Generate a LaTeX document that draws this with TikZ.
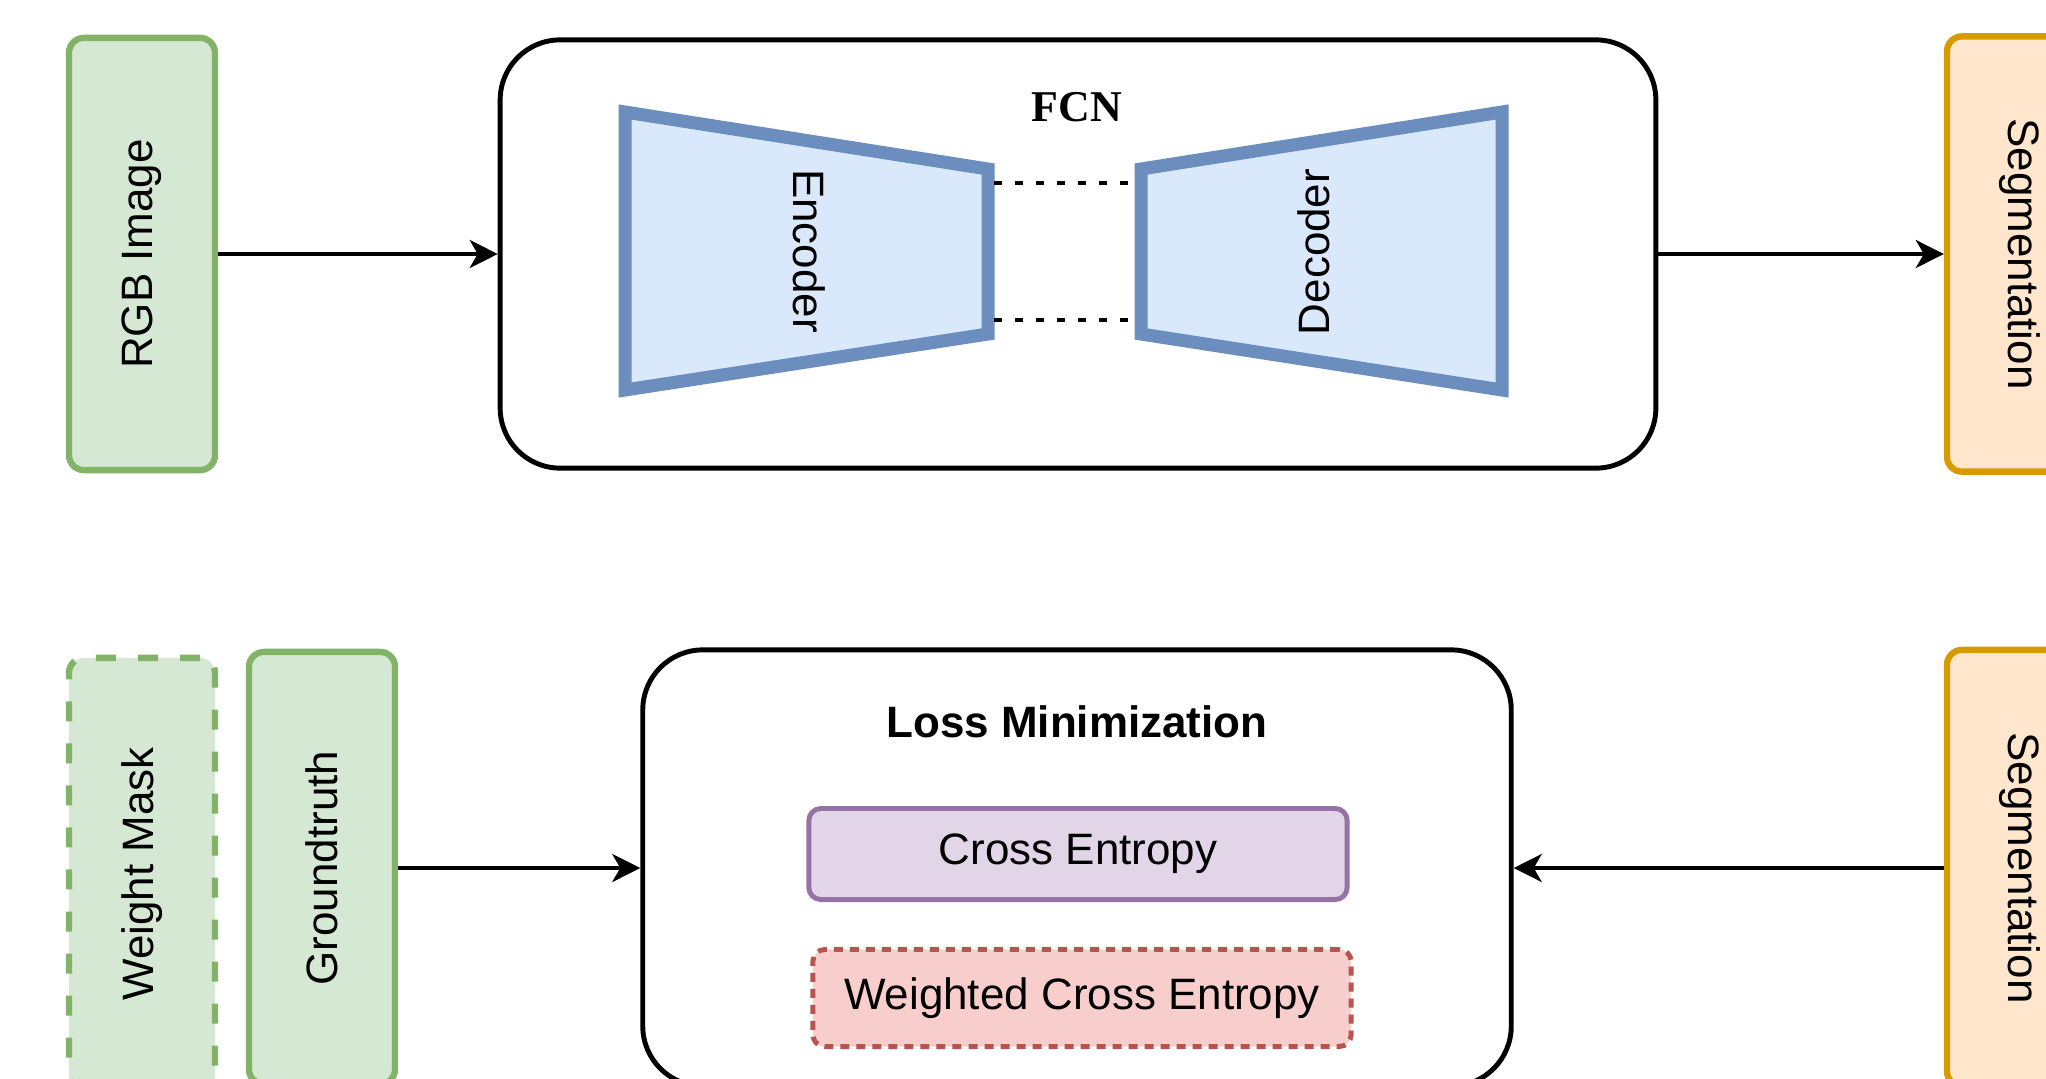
\documentclass[tikz,border=0pt]{standalone}
\usepackage{fontspec}
\setmainfont{Liberation Sans}
\newfontfamily\timesfont{Liberation Serif}
\usetikzlibrary{arrows.meta}

\definecolor{greenfill}{HTML}{D5E8D4}
\definecolor{greenline}{HTML}{82B366}
\definecolor{bluefill}{HTML}{DAE8FC}
\definecolor{blueline}{HTML}{6C8EBF}
\definecolor{orangefill}{HTML}{FFE6CC}
\definecolor{orangeline}{HTML}{D79B00}
\definecolor{purplefill}{HTML}{E1D5E7}
\definecolor{purpleline}{HTML}{9673A6}
\definecolor{redfill}{HTML}{F8CECC}
\definecolor{redline}{HTML}{B85450}

\begin{document}
\begin{tikzpicture}[x=0.01cm, y=-0.01cm,
    every node/.style={font=\fontsize{12.5}{15}\selectfont},
    box/.style={draw, rounded corners=0.15cm, line width=1.8pt, minimum width=1.46cm, minimum height=4.32cm, inner sep=0pt},
    greenbox/.style={box, draw=greenline, fill=greenfill},
    orangebox/.style={box, draw=orangeline, fill=orangefill},
    bigbox/.style={draw, rounded corners=0.6cm, line width=1.4pt, inner sep=0pt},
    smallbox/.style={draw, rounded corners=0.12cm, line width=1.4pt, minimum width=5.38cm, inner sep=0pt},
    coder/.style={draw=blueline, fill=bluefill, line width=3.7pt, line join=miter},
    skipline/.style={line width=1pt, dash pattern=on 0.08cm off 0.13cm},
    arrow/.style={-{Stealth[length=0.28cm, width=0.28cm, inset=0.08cm]}, line width=1.1pt}]

\useasboundingbox (0,0) rectangle (2046,1078);
\clip (0,0) rectangle (2046,1078);

% 위: FCN
\node[greenbox] (rgb) at (142,254) {\rotatebox{90}{RGB Image}};
\node[bigbox, minimum width=11.55cm, minimum height=4.28cm] (fcn) at (1078,254) {};
\node[orangebox, minimum height=4.35cm] (segtop) at (2020,254) {\rotatebox{-90}{Segmentation}};
\node[font={\timesfont\bfseries\fontsize{12.5}{15}\selectfont}] (fcnlabel) at (1077,107) {FCN};

\draw[coder] (625,112) -- (988,169) -- (988,334) -- (625,390) -- cycle;
\draw[coder] (1141,169) -- (1502,112) -- (1502,390) -- (1141,334) -- cycle;
\node (enc) at (809,251) {\rotatebox{-90}{Encoder}};
\node (dec) at (1314,252) {\rotatebox{90}{Decoder}};

\foreach \y/\n in {183/1, 320/2}{
    \coordinate (e\n) at (994,\y);
    \coordinate (d\n) at (1135,\y);
    \draw[skipline] (e\n) -- (d\n);
}

\draw[arrow] (rgb) -- (fcn);
\draw[arrow] (fcn) -- (segtop);

% 아래: loss
\node[greenbox, dash pattern=on 0.2cm off 0.22cm] (wmask) at (142,874) {\rotatebox{90}{Weight Mask}};
\node[greenbox] (gt) at (322,868) {\rotatebox{90}{Groundtruth}};
\node[bigbox, minimum width=8.68cm, minimum height=4.36cm] (loss) at (1077,868) {};
\node[font=\bfseries\fontsize{12.5}{15}\selectfont] (losslabel) at (1077,722) {Loss Minimization};
\node[smallbox, draw=purpleline, fill=purplefill, minimum height=0.91cm] (ce) at (1078,854) {Cross Entropy};
\node[smallbox, draw=redline, fill=redfill, minimum height=0.97cm, dash pattern=on 0.09cm off 0.07cm] (wce) at (1082,998) {Weighted Cross Entropy};
\node[orangebox, minimum height=4.36cm] (segbot) at (2020,868) {\rotatebox{-90}{Segmentation}};

\draw[arrow] (gt) -- (loss);
\draw[arrow] (segbot) -- (loss);

\end{tikzpicture}
\end{document}
